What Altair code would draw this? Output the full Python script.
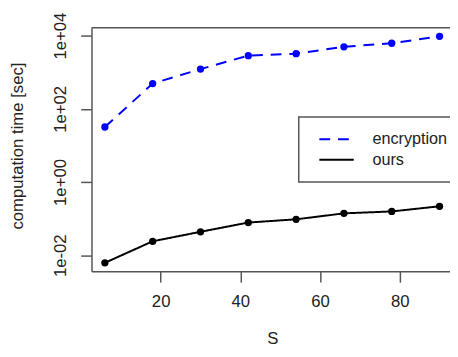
import altair as alt
import pandas as pd

# ---- data ----
S = [6, 18, 30, 42, 54, 66, 78, 90]
encryption = [31.8, 490, 1216, 2832, 3206, 4941, 6170, 9510]
ours = [0.0062, 0.024, 0.0436, 0.078, 0.0957, 0.139, 0.157, 0.217]
series_names = ["encryption", "ours"]
series_colors = ["#0000ff", "#000000"]
series_dash = [[11, 8], [1, 0]]
x_ticks = [20, 40, 60, 80]
y_ticks = [0.01, 1, 100, 10000]
y_tick_labels = ["1e-02", "1e+00", "1e+02", "1e+04"]

rows = []
for s, e, o in zip(S, encryption, ours):
    rows.append({"S": s, "time": e, "method": series_names[0]})
    rows.append({"S": s, "time": o, "method": series_names[1]})
df = pd.DataFrame(rows)

label_expr = ""
for v, l in zip(y_ticks, y_tick_labels):
    label_expr += f"abs(datum.value - {v}) < {v} * 0.001 ? '{l}' : "
label_expr += "''"

FONT = "Liberation Sans"
BOX = "#555555"
TXT = "#222222"

x_enc = alt.X(
    "S:Q",
    scale=alt.Scale(domain=[2.64, 93.36], range=[0, 368], nice=False, zero=False),
    axis=alt.Axis(
        values=x_ticks, grid=False, title="S",
        tickSize=11, labelPadding=20, labelBaseline="middle",
        labelFlush=False, labelOverlap=False,
        titleX=184, titleY=74, titleBaseline="alphabetic", titleAlign="center",
    ),
)
y_enc = alt.Y(
    "time:Q",
    scale=alt.Scale(type="log", domain=[10 ** -2.44, 10 ** 4.2146], nice=False),
    axis=alt.Axis(
        values=y_ticks, labelExpr=label_expr, grid=False,
        labelAngle=270, labelAlign="center", labelBaseline="middle",
        tickSize=11, labelPadding=20, labelFlush=False, labelOverlap=False,
        title="computation time [sec]", titleAngle=270, titleX=-75, titleY=120,
        titleAlign="center", titleBaseline="middle",
    ),
)

legend_props = dict(
    orient="none", legendX=213, legendY=91, title=None,
    padding=14, strokeColor="transparent", fillColor="transparent",
    symbolType="stroke", symbolSize=1225, symbolStrokeWidth=2,
    symbolOffset=4, clipHeight=17, rowPadding=4,
    labelFont=FONT, labelFontSize=16.5, labelColor=TXT, labelOffset=18,
    labelLimit=300,
)

color_enc = alt.Color(
    "method:N",
    scale=alt.Scale(domain=series_names, range=series_colors),
    legend=alt.Legend(**legend_props),
)
dash_enc = alt.StrokeDash(
    "method:N",
    scale=alt.Scale(domain=series_names, range=series_dash),
    legend=alt.Legend(**legend_props),
)

lines = alt.Chart(df).mark_line(strokeWidth=2).encode(
    x=x_enc, y=y_enc, color=color_enc, strokeDash=dash_enc
)
points = alt.Chart(df).mark_circle(size=55, opacity=1).encode(
    x=x_enc, y=y_enc,
    color=alt.Color("method:N", scale=alt.Scale(domain=series_names, range=series_colors), legend=None),
)
frame_df = pd.DataFrame({"a": [0]})
top_border = alt.Chart(frame_df).mark_rule(color=BOX, strokeWidth=1.5).encode(
    x=alt.value(0), x2=alt.value(368), y=alt.value(0)
)
legend_frame = alt.Chart(frame_df).mark_rect(
    fill="white", stroke=BOX, strokeWidth=1.5
).encode(
    x=alt.value(211), x2=alt.value(380), y=alt.value(91), y2=alt.value(157)
)

chart = (
    alt.layer(top_border, legend_frame, lines, points)
    .properties(
        width=365, height=248,
        autosize=alt.AutoSizeParams(type="none"),
        padding={"left": 85, "top": 17, "right": 0, "bottom": 75},
    )
    .configure_view(strokeOpacity=0)
    .configure_axis(
        domainColor=BOX, domainWidth=1.5, tickColor=BOX, tickWidth=1.5,
        labelFont=FONT, labelFontSize=17, labelColor=TXT,
        titleFont=FONT, titleFontSize=17, titleColor=TXT, titleFontWeight="normal",
    )
)

chart.save("out.html", embed_options={"renderer": "svg", "actions": False})
